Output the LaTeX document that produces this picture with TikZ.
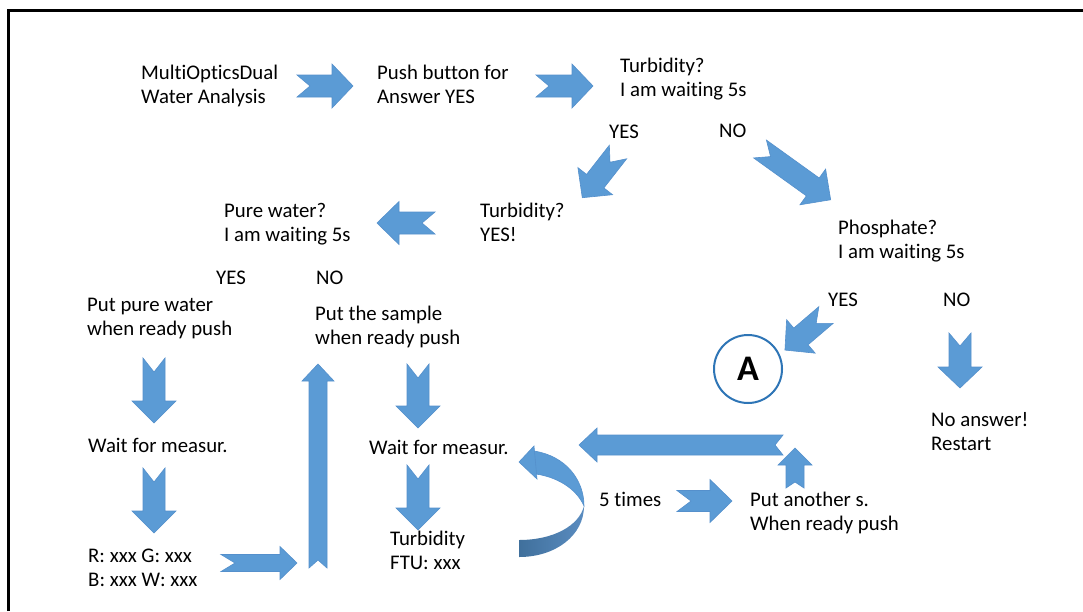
\documentclass[tikz,border=0pt]{standalone}
\usepackage{fontspec}
\setmainfont[RawFeature={-liga;-calt;-clig}]{Carlito}
\definecolor{arrowblue}{HTML}{5B9BD5}
\definecolor{arrowedge}{HTML}{5590CC}
\definecolor{circblue}{HTML}{2E75B6}
\definecolor{darkribbon}{HTML}{40709C}
\definecolor{midribbon}{HTML}{5A8CC0}
\newcommand\blkarrow[8]{%
  \begin{scope}[shift={(#1,#2)},rotate=#3]
    \filldraw[fill=arrowblue,draw=arrowedge,line width=0.6pt,line join=miter]
      (0,{#5/2}) -- ({#4-#7},{#5/2}) -- ({#4-#7},{#6/2}) -- (#4,0)
      -- ({#4-#7},{-#6/2}) -- ({#4-#7},{-#5/2}) -- (0,{-#5/2}) -- (#8,0) -- cycle;
  \end{scope}}
\begin{document}
\begin{tikzpicture}[x=1pt,y=-1pt,
  txt/.style={anchor=west,align=left,inner sep=0pt,font=\fontsize{20.8}{24}\selectfont}]
\useasboundingbox (0,0) rectangle (1083,611);
\fill[white] (0,0) rectangle (1083,611);
% frame
\draw[line width=3pt] (8,611) -- (8,10) -- (1083,10);

% texts
\node[txt] (t1) at (141,87) {\strut MultiOpticsDual\\\strut Water Analysis};
\node[txt] (t2) at (377,87) {\strut Push button for\\\strut Answer YES};
\node[txt] (t3) at (620,80) {\strut Turbidity?\\\strut I am waiting 5s};
\node[txt] (yes1) at (609,134) {\strut YES};
\node[txt] (no1) at (719,133) {\strut NO};
\node[txt] (t4) at (480,225) {\strut Turbidity?\\\strut YES!};
\node[txt] (t5) at (224,225) {\strut Pure water?\\\strut I am waiting 5s};
\node[txt] (t6) at (838,242) {\strut Phosphate?\\\strut I am waiting 5s};
\node[txt] (yes2) at (216,280) {\strut YES};
\node[txt] (no2) at (316,280) {\strut NO};
\node[txt] (yes3) at (828,302) {\strut YES};
\node[txt] (no3) at (943,302) {\strut NO};
\node[txt] (t7) at (87,319) {\strut Put pure water\\\strut when ready push};
\node[txt] (t8) at (315,328) {\strut Put the sample\\\strut when ready push};
\node[txt] (t9) at (88,448) {\strut Wait for measur.};
\node[txt] (t10) at (369,450) {\strut Wait for measur.};
\node[txt] (t11) at (931,434) {\strut No answer!\\\strut Restart};
\node[txt] (t12) at (599,502) {\strut 5 times};
\node[txt] (t13) at (750,514) {\strut Put another s.\\\strut When ready push};
\node[txt] (t14) at (390,553) {\strut Turbidity\\\strut FTU: xxx};
\node[txt] (t15) at (88,570) {\strut R: xxx G: xxx\\\strut B: xxx W: xxx};

% circle A
\node[circle,draw=circblue,line width=2pt,minimum size=68pt,inner sep=0pt,
  font=\fontsize{36}{40}\selectfont\bfseries] (A) at (748,369) {A};

% block arrows
\blkarrow{297}{86}{0}{56}{22}{44}{21}{13}
\blkarrow{536}{86}{0}{57}{22}{44}{21}{13}
\blkarrow{618}{152}{232}{58}{22}{44}{21}{13}
\blkarrow{760}{149}{-35.7}{87}{22}{44}{22}{13}
\blkarrow{435}{223}{180}{58}{22}{43}{22}{13}
\blkarrow{826}{315}{220.5}{54}{22}{44}{21}{13}
\blkarrow{960}{333}{-90}{55}{22}{44}{21}{13}
\blkarrow{154}{358}{-90}{65}{22}{44}{22}{14}
\blkarrow{154}{468}{-90}{65}{22}{44}{22}{14}
\blkarrow{418}{364}{-90}{64}{22}{44}{22}{14}
\blkarrow{418}{465}{-90}{65}{22}{44}{22}{14}
\blkarrow{221}{563}{0}{76}{17}{33}{17}{14}
\blkarrow{318}{568}{90}{204}{18}{32}{17}{8}
\blkarrow{783}{445}{180}{204}{20}{34}{18}{8}
\blkarrow{795}{488}{90}{40}{18}{34}{17}{6}
\blkarrow{677}{501}{0}{55}{21}{43}{22}{14}

% curved U-turn arrow
\shade[left color=darkribbon,right color=midribbon]
  (584,506) .. controls (584,535) and (556,557) .. (519,557) -- (519,540)
  .. controls (553,540) and (579,526) .. (584,506) -- cycle;
\filldraw[fill=arrowblue,draw=arrowedge,line width=0.6pt]
  (534,451) .. controls (566,456) and (584,480) .. (584,506)
  .. controls (578,492) and (562,478) .. (536,474) -- cycle;
\filldraw[fill=arrowblue,draw=arrowedge,line width=0.6pt]
  (534,446) -- (519,462) -- (537,479) -- cycle;
\end{tikzpicture}
\end{document}
